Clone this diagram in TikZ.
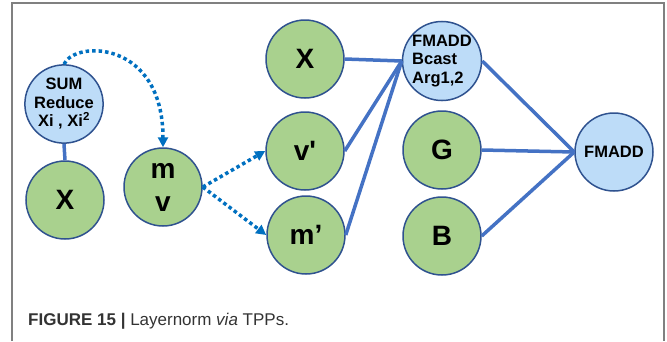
\documentclass[tikz,border=0pt]{standalone}
\usepackage{fontspec}
\setmainfont{Liberation Sans}
\usetikzlibrary{arrows.meta}
\definecolor{nodegreen}{HTML}{A9D18E}
\definecolor{nodeblue}{HTML}{BDDCF8}
\definecolor{rimblue}{HTML}{2F528F}
\definecolor{linkblue}{HTML}{4472C4}
\definecolor{dotblue}{HTML}{0070C0}
\definecolor{capgray}{HTML}{333333}
\tikzset{
  var/.style={circle, draw=rimblue, line width=1.5pt, fill=nodegreen, inner sep=0pt, minimum size=78pt, align=center, font=\bfseries\fontsize{28}{33}\selectfont},
  op/.style={circle, draw=rimblue, line width=1.5pt, fill=nodeblue, inner sep=0pt, minimum size=78pt, font=\bfseries\fontsize{16.5}{18.5}\selectfont},
  link/.style={draw=linkblue, line width=3.5pt},
  flow/.style={draw=dotblue, line width=3.5pt, dash pattern=on 3.5pt off 3pt, -{Triangle[length=10pt, width=10pt]}},
}

\begin{document}
\begin{tikzpicture}[x=1pt, y=-1pt]
      \useasboundingbox (0,0) rectangle (667,341);
      \draw[gray, line width=1.2pt] (12,341) -- (12,3) -- (664,3) -- (664,341);

      \node[op, align=center] (sum) at (64,104) {SUM\\Reduce\\Xi , Xi\textsuperscript{2}};
      \node[var] (x1) at (65,200) {X};
      \node[var] (mv) at (163,187) {m\\v};
      \node[var] (x2) at (305,59) {X};
      \node[var] (vp) at (305,151) {v\textquotesingle};
      \node[var] (mp) at (306,235) {m’};
      \node[op, align=left] (bcast) at (442,61) {FMADD\\Bcast\\Arg1,2};
      \node[var] (g) at (442,150) {G};
      \node[var] (b) at (442,236) {B};
      \node[op] (fmadd) at (614,152) {FMADD};

      \draw[link] (sum.south) -- (x1.north);
      \draw[link] (x2.east) -- (bcast.west);
      \draw[link] (vp.east) -- (bcast.west);
      \draw[link] (mp.east) -- (bcast.west);
      \draw[link] (bcast.east) -- (fmadd.west);
      \draw[link] (g.east) -- (fmadd.west);
      \draw[link] (b.east) -- (fmadd.west);

      \draw[flow] (sum.north) .. controls (75,40) and (163,40) .. (mv.north);
      \draw[flow] (mv.east) -- (vp.west);
      \draw[flow] (mv.east) -- (mp.west);

      \node[anchor=base west, inner sep=0pt, text=capgray, font=\fontsize{17}{19}\selectfont] (caption) at (28,325) {\textbf{FIGURE 15 |} Layernorm \textit{via} TPPs.};
    \end{tikzpicture}
\end{document}
